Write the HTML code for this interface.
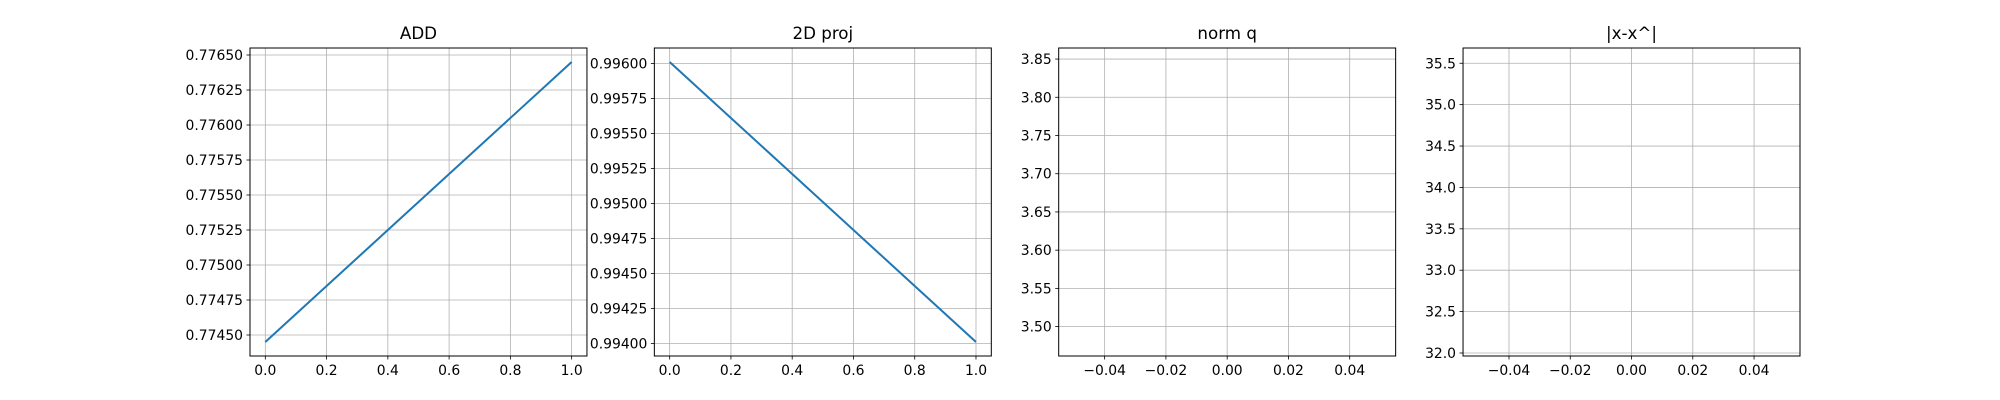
<!DOCTYPE html>
<html><head><meta charset="utf-8"><style>
body{margin:0;background:#fff}
svg{display:block;font-family:"DejaVu Sans","Liberation Sans",sans-serif}
</style></head><body>
<svg id="fig" width="2000" height="400" viewBox="0 0 2000 400"></svg>
<script>
const titles = ["ADD", "2D proj", "norm q", "|x-x^|"];
const xValues = [[0, 1], [0, 1], [0], [0]];
const addValues = [0.77445, 0.77645];
const projValues = [0.99601, 0.99401];
const normqValues = [3.663];
const errValues = [33.824];
const seriesValues = [addValues, projValues, normqValues, errValues];
const yTicks = [
  [0.7745, 0.77475, 0.775, 0.77525, 0.7755, 0.77575, 0.776, 0.77625, 0.7765],
  [0.994, 0.99425, 0.9945, 0.99475, 0.995, 0.99525, 0.9955, 0.99575, 0.996],
  [3.5, 3.55, 3.6, 3.65, 3.7, 3.75, 3.8, 3.85],
  [32.0, 32.5, 33.0, 33.5, 34.0, 34.5, 35.0, 35.5]
];
const yDecimals = [5, 5, 2, 1];
const xTicks = [
  [0, 0.2, 0.4, 0.6, 0.8, 1.0],
  [0, 0.2, 0.4, 0.6, 0.8, 1.0],
  [-0.04, -0.02, 0, 0.02, 0.04],
  [-0.04, -0.02, 0, 0.02, 0.04]
];
const xDecimals = [1, 1, 2, 2];

const NS = "http://www.w3.org/2000/svg";
const svg = document.getElementById("fig");
function mk(tag, attrs, parent) {
  const e = document.createElementNS(NS, tag);
  for (const k in attrs) e.setAttribute(k, attrs[k]);
  (parent || svg).appendChild(e);
  return e;
}
function fmt(v, d) { return v.toFixed(d).replace("-", "\u2212"); }
function extent(arr) {
  let lo = Math.min(...arr), hi = Math.max(...arr);
  if (lo === hi) { const m = Math.abs(lo) * 0.05 || 0.05; lo -= m; hi += m; }
  const p = (hi - lo) * 0.05;
  return [lo - p, hi + p];
}
const L = 250, R = 1800, T = 48, B = 356;
const W = (R - L) / (4 + 3 * 0.2), G = W * 0.2;
for (let i = 0; i < 4; i++) {
  const x0 = L + i * (W + G), x1 = x0 + W;
  const g = mk("g", {});
  
  
  const [xlo, xhi] = extent(xValues[i]);
  const [ylo, yhi] = extent(seriesValues[i]);
  const sx = v => x0 + (v - xlo) / (xhi - xlo) * W;
  const sy = v => B - (v - ylo) / (yhi - ylo) * (B - T);
  // grid + ticks
  xTicks[i].forEach(v => {
    const x = sx(v);
    const gl = mk("line", {x1: x, x2: x, y1: T, y2: B, stroke: "#b0b0b0", "stroke-width": 0.8}, g);
    
    
    mk("line", {x1: x, x2: x, y1: B, y2: B + 3.5, stroke: "#000", "stroke-width": 0.8}, g);
    const t = mk("text", {x: x, y: B + 19, "font-size": 13.9, "text-anchor": "middle", fill: "#000"}, g);
    
    
    t.textContent = fmt(v, xDecimals[i]);
  });
  yTicks[i].forEach(v => {
    const y = sy(v);
    const gl = mk("line", {x1: x0, x2: x1, y1: y, y2: y, stroke: "#b0b0b0", "stroke-width": 0.8}, g);
    
    
    mk("line", {x1: x0 - 3.5, x2: x0, y1: y, y2: y, stroke: "#000", "stroke-width": 0.8}, g);
    const t = mk("text", {x: x0 - 7, y: y + 5, "font-size": 13.9, "text-anchor": "end", fill: "#000"}, g);
    
    
    t.textContent = fmt(v, yDecimals[i]);
  });
  // series
  const pts = xValues[i].map((xv, k) => sx(xv) + "," + sy(seriesValues[i][k])).join(" ");
  const line = mk("polyline", {points: pts, fill: "none", stroke: "#1f77b4", "stroke-width": 2}, g);
  
  
  const frame = mk("rect", {x: x0, y: T, width: W, height: B - T, fill: "none", stroke: "#000", "stroke-width": 1}, g);
  
  
  const tt = mk("text", {x: (x0 + x1) / 2, y: T - 9, "font-size": 16.7, "text-anchor": "middle", fill: "#000"}, g);
  
  
  tt.textContent = titles[i];
}
</script>
</body></html>
